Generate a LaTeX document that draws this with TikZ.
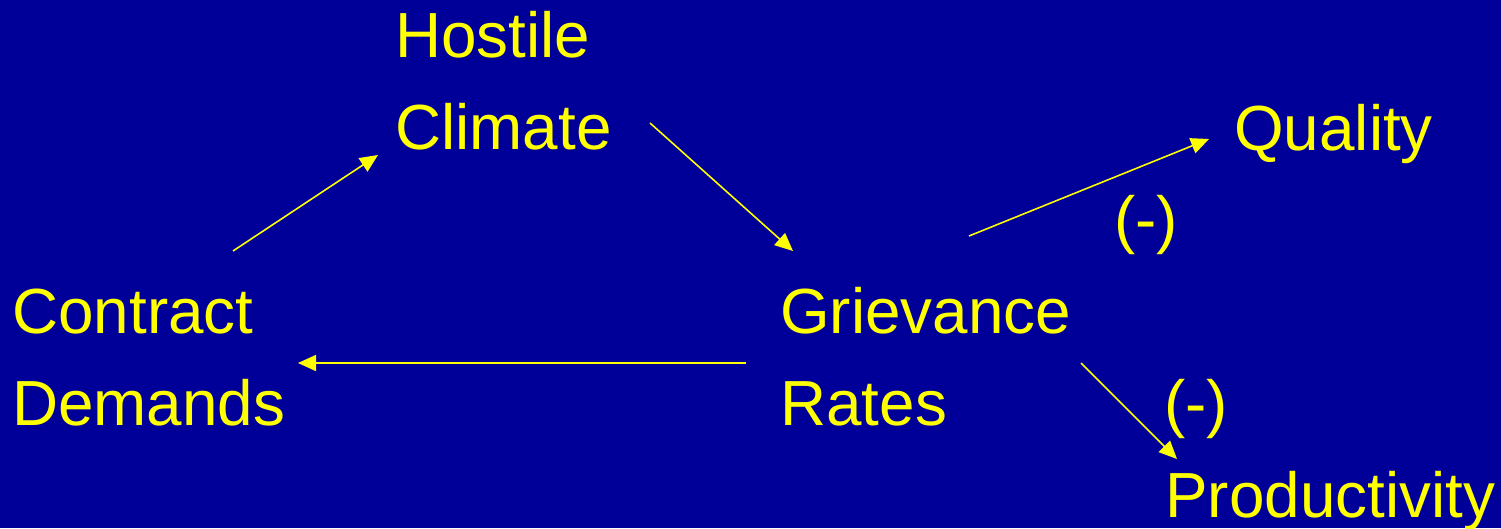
\documentclass[tikz,border=0pt]{standalone}
\usepackage{fontspec}
\setmainfont{Liberation Sans}
\usetikzlibrary{arrows.meta}
\definecolor{slideblue}{RGB}{0,0,153}
\definecolor{slideyellow}{RGB}{255,255,0}
\tikzset{
  term/.style={anchor=base west, align=left, inner sep=0pt, text=slideyellow,
    font=\fontsize{36.3}{52.3}\selectfont},
  link/.style={draw=slideyellow, line width=0.9pt,
    -{Triangle[length=0.36cm,width=0.32cm,fill=slideyellow]}}
}
\begin{document}
\begin{tikzpicture}[x=0.02cm,y=-0.02cm]
  \fill [slideblue] (0,0) rectangle (1501,528);
  \useasboundingbox (0,0) rectangle (1501,528);
  % terms (base anchor sits on the last line)
  \node [term] (climate) at (395,149) {Hostile\\Climate};
  \node [term] (demands) at (12,425) {Contract\\Demands};
  \node [term] (grievance) at (780,425) {Grievance\\Rates};
  \node [term] (quality) at (1234,150) {Quality};
  \node [term] (productivity) at (1165,517) {Productivity};
  \node [term] (minusq) at (1114,241) {(-)};
  \node [term] (minusp) at (1164,425) {(-)};
  % arrow ends
  \coordinate (demands-out) at (233,251);
  \coordinate (climate-in) at (378,155);
  \coordinate (climate-out) at (650,123);
  \coordinate (grievance-in) at (793,251);
  \coordinate (grievance-left) at (746,363);
  \coordinate (demands-in) at (298,363);
  \coordinate (grievance-up) at (969,236);
  \coordinate (quality-in) at (1209,139);
  \coordinate (grievance-down) at (1081,363);
  \coordinate (productivity-in) at (1177,459);
  \draw [link] (demands-out) -- (climate-in);
  \draw [link] (climate-out) -- (grievance-in);
  \draw [link] (grievance-left) -- (demands-in);
  \draw [link] (grievance-up) -- (quality-in);
  \draw [link] (grievance-down) -- (productivity-in);
\end{tikzpicture}
\end{document}
